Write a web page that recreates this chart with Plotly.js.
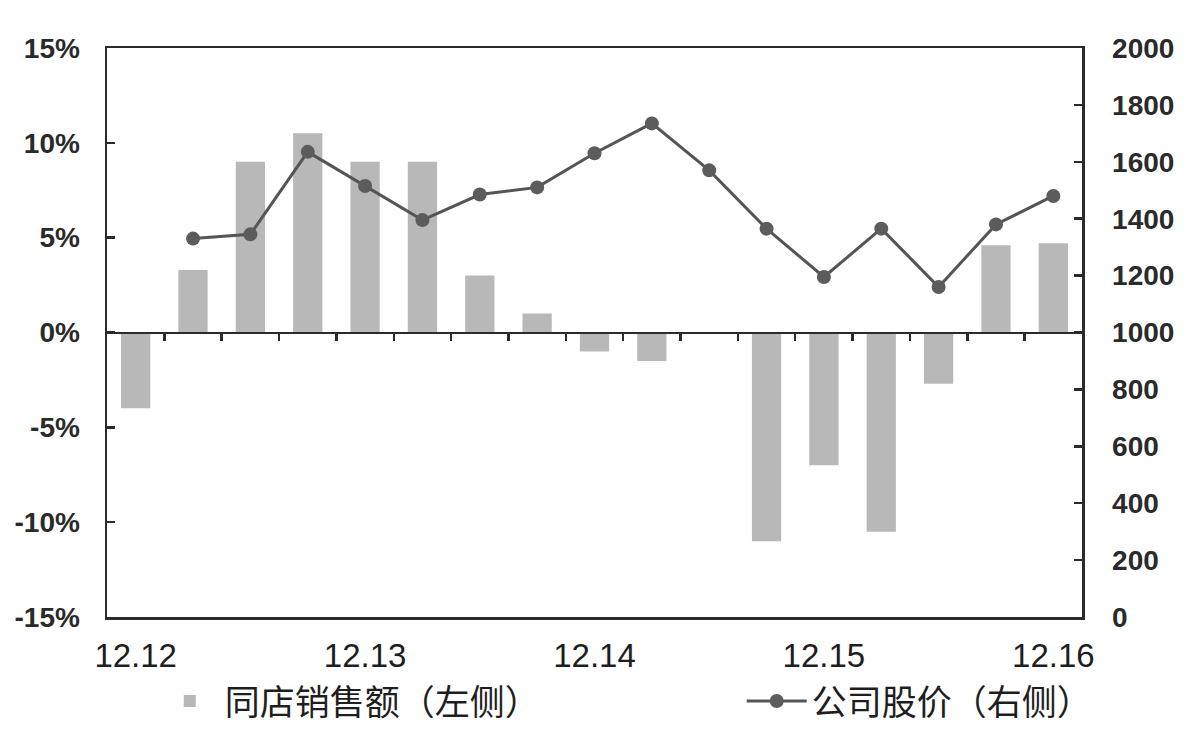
<!DOCTYPE html>
<html>
<head>
<meta charset="utf-8">
<script src="https://cdn.plot.ly/plotly-3.0.1.min.js"></script>
<style>html,body{margin:0;padding:0;background:#fff;}#chart{width:1192px;height:732px;}</style>
</head>
<body>
<div id="chart"></div>
<script>
// Quarter-end months (month.year)
var categories = ['12.12','3.13','6.13','9.13','12.13','3.14','6.14','9.14','12.14','3.15','6.15','9.15','12.15','3.16','6.16','9.16','12.16'];
// Same-store sales growth (%), left axis
var sameStoreSales = [-4.0, 3.3, 9.0, 10.5, 9.0, 9.0, 3.0, 1.0, -1.0, -1.5, 0, -11.0, -7.0, -10.5, -2.7, 4.6, 4.7];
// Company share price, right axis
var sharePrice = [null, 1330, 1345, 1635, 1515, 1395, 1485, 1510, 1630, 1735, 1570, 1365, 1195, 1365, 1160, 1380, 1480];
// Labelled ticks on the x axis
var xTickLabels = ['12.12','12.13','12.14','12.15','12.16'];
var leftTicks = [-15, -10, -5, 0, 5, 10, 15];
var rightTicks = [0, 200, 400, 600, 800, 1000, 1200, 1400, 1600, 1800, 2000];
var seriesNames = ['同店销售额（左侧）', '公司股价（右侧）'];

var boundaries = categories.slice(0, -1).map(function (c, i) { return i + 0.5; });
var ink = '#2b2b2b';
var catRange = [-0.5, categories.length - 0.5];

var traces = [
  {
    type: 'bar', name: seriesNames[0], x: categories, y: sameStoreSales,
    xaxis: 'x', yaxis: 'y', marker: {color: '#b8b8b8'}, legend: 'legend',
    hoverinfo: 'skip'
  },
  {
    type: 'scatter', mode: 'lines+markers', name: seriesNames[1], x: categories, y: sharePrice,
    xaxis: 'x', yaxis: 'y2', line: {color: '#555555', width: 3},
    marker: {color: '#5c5c5c', size: 14}, legend: 'legend2', connectgaps: false,
    hoverinfo: 'skip'
  },
  {
    type: 'scatter', mode: 'none', x: categories, y: sameStoreSales,
    xaxis: 'x2', yaxis: 'y', showlegend: false, hoverinfo: 'skip'
  }
];

var layout = {
  width: 1192, height: 732,
  margin: {l: 107, r: 110, t: 48, b: 115, autoexpand: false},
  paper_bgcolor: '#ffffff', plot_bgcolor: '#ffffff',
  bargap: 0.49,
  showlegend: true,
  xaxis: {
    type: 'category', categoryorder: 'array', categoryarray: categories,
    range: catRange, anchor: 'free', position: 0.5,
    showline: true, linecolor: ink, linewidth: 2.5,
    showticklabels: false, ticks: 'outside', tickmode: 'array', tickvals: boundaries,
    ticklen: 7, tickwidth: 2.5, tickcolor: ink, showgrid: false, zeroline: false, fixedrange: true
  },
  xaxis2: {
    type: 'category', categoryorder: 'array', categoryarray: categories,
    overlaying: 'x', anchor: 'y', side: 'bottom', range: catRange,
    showline: true, mirror: true, linecolor: ink, linewidth: 2.5,
    ticks: '', tickmode: 'array', tickvals: xTickLabels, ticktext: xTickLabels,
    tickfont: {family: 'Liberation Sans, Arial, sans-serif', size: 33, color: '#1e1e1e'},
    ticklabelstandoff: 8, showgrid: false, zeroline: false, fixedrange: true
  },
  yaxis: {
    range: [-15, 15], tickmode: 'array', tickvals: leftTicks,
    ticktext: leftTicks.map(function (v) { return v + '%'; }),
    ticks: 'inside', ticklen: 8, tickwidth: 2.5, tickcolor: ink,
    showline: true, linecolor: ink, linewidth: 2.5,
    tickfont: {family: 'Liberation Sans, Arial, sans-serif', size: 28, color: '#2a2a2a', weight: 'bold'},
    ticklabelstandoff: 19, showgrid: false, zeroline: false, fixedrange: true
  },
  yaxis2: {
    range: [0, 2000], overlaying: 'y', side: 'right', anchor: 'x',
    tickmode: 'array', tickvals: rightTicks,
    ticks: 'inside', ticklen: 8, tickwidth: 2.5, tickcolor: ink,
    showline: true, linecolor: ink, linewidth: 2.5,
    tickfont: {family: 'Liberation Sans, Arial, sans-serif', size: 28, color: '#2a2a2a', weight: 'bold'},
    ticklabelstandoff: 22, showgrid: false, zeroline: false, fixedrange: true
  },
  legend: {
    orientation: 'h', x: 0.049, xanchor: 'left', y: -0.148, yanchor: 'middle',
    font: {family: 'Noto Sans CJK SC, sans-serif', size: 35, color: '#1e1e1e'},
    bgcolor: 'rgba(0,0,0,0)', itemwidth: 60
  },
  legend2: {
    orientation: 'h', x: 0.651, xanchor: 'left', y: -0.148, yanchor: 'middle',
    font: {family: 'Noto Sans CJK SC, sans-serif', size: 35, color: '#1e1e1e'},
    bgcolor: 'rgba(0,0,0,0)', itemwidth: 60
  }
};

Plotly.newPlot('chart', traces, layout, {staticPlot: true, displayModeBar: false});
</script>
</body>
</html>
